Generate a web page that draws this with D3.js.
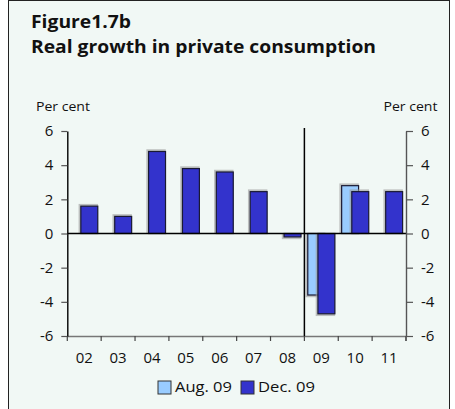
<!DOCTYPE html>
<html><head><meta charset="utf-8">
<script src="https://cdn.jsdelivr.net/npm/d3@7"></script>
<style>body{margin:0;background:#fff}svg{display:block}text{font-family:"Open Sans",sans-serif;fill:#111}</style>
</head><body><svg id="c" width="455" height="409"></svg>
<script>
const categories = ["02","03","04","05","06","07","08","09","10","11"];
const seriesNames = ["Aug. 09","Dec. 09"];
const aug09 = [null,null,null,null,null,null,null,-3.6,2.8,null];
const dec09 = [1.6,1.0,4.8,3.8,3.6,2.45,-0.2,-4.7,2.45,2.45];
const yTicks = [-6,-4,-2,0,2,4,6];
const colors = ["#99ccff","#3333cc"];

const svg = d3.select("#c");
svg.append("rect").attr("x",8.5).attr("y",0.5).attr("width",441).attr("height",420)
  .attr("fill","#f1f8f5").attr("stroke","#222").attr("stroke-width",1);

const L=67.3, R=406, T=131, B=336;
const x = d3.scaleBand().domain(categories).range([L,R]).padding(0);
const y = d3.scaleLinear().domain([-6,6]).range([B,T]);
const bw = x.bandwidth();
const barW = bw*0.5;
const xs = d3.scalePoint().domain(seriesNames).range([bw*0.1+barW/2, bw*0.9-barW/2]);

// title
svg.append("text").attr("x",31).attr("y",27.5).attr("font-weight","bold").attr("font-size",18)
  .attr("textLength",100).attr("lengthAdjust","spacingAndGlyphs").text("Figure1.7b");
svg.append("text").attr("x",31).attr("y",52.5).attr("font-weight","bold").attr("font-size",17.5)
  .attr("textLength",345).attr("lengthAdjust","spacingAndGlyphs").text("Real growth in private consumption");
svg.append("text").attr("x",36).attr("y",111).attr("font-size",13)
  .attr("textLength",54).attr("lengthAdjust","spacingAndGlyphs").text("Per cent");
svg.append("text").attr("x",383.5).attr("y",111).attr("font-size",13)
  .attr("textLength",54).attr("lengthAdjust","spacingAndGlyphs").text("Per cent");

// bars
const series = [aug09, dec09];
series.forEach((vals,si)=>{
  const g = svg.append("g");
  categories.forEach((c,i)=>{
    const v = vals[i]; if(v==null) return;
    const cx = x(c)+xs(seriesNames[si]);
    const y0 = Math.min(y(0),y(v)), h = Math.abs(y(v)-y(0));
    g.append("rect").attr("x",cx-barW/2-1).attr("y",y0+ (v<0?1:-1)).attr("width",barW).attr("height",h)
      .attr("fill","none").attr("stroke","#999").attr("stroke-width",2.5).attr("opacity",0.6);
    g.append("rect").attr("x",cx-barW/2).attr("y",y0).attr("width",barW).attr("height",h)
      .attr("fill",colors[si]).attr("stroke","#1a1a33").attr("stroke-width",1.2);
  });
});

// zero line
svg.append("line").attr("x1",L).attr("x2",R).attr("y1",y(0)).attr("y2",y(0)).attr("stroke","#000").attr("stroke-width",1.6);

// bottom axis
const xa = svg.append("g").attr("transform",`translate(0,${B})`)
  .call(d3.axisBottom(x).tickSize(0).tickPadding(16));
xa.select(".domain").attr("stroke","#777").attr("stroke-width",1.4);
xa.selectAll("text").attr("font-size",15).attr("font-family","Open Sans").attr("fill","#111");
const tickXs = categories.map(c=>x(c)).concat([R]);
svg.append("g").selectAll("line").data(tickXs).join("line")
  .attr("x1",d=>d).attr("x2",d=>d).attr("y1",B).attr("y2",B+5).attr("stroke","#444").attr("stroke-width",1.2);

// divider
svg.append("line").attr("x1",x("09")).attr("x2",x("09")).attr("y1",128).attr("y2",B).attr("stroke","#000").attr("stroke-width",1.5);

const fmt = d=>String(d);
const ya = svg.append("g").attr("transform",`translate(${L},0)`)
  .call(d3.axisLeft(y).tickValues(yTicks).tickSize(6).tickPadding(8).tickSizeOuter(0).tickFormat(fmt));
ya.select(".domain").attr("stroke","#000").attr("stroke-width",1.4);
ya.selectAll(".tick line").attr("stroke","#555").attr("stroke-width",1.2);
ya.selectAll("text").attr("font-size",15).attr("font-family","Open Sans").attr("fill","#111");

const yb = svg.append("g").attr("transform",`translate(${R},0)`)
  .call(d3.axisRight(y).tickValues(yTicks).tickSize(7).tickPadding(8).tickSizeOuter(0).tickFormat(fmt));
yb.select(".domain").attr("stroke","#555").attr("stroke-width",1.4);
yb.selectAll(".tick line").attr("stroke","#555").attr("stroke-width",1.2);
yb.selectAll("text").attr("font-size",15).attr("font-family","Open Sans").attr("fill","#111");
svg.append("line").attr("x1",R).attr("x2",R).attr("y1",B).attr("y2",B+5).attr("stroke","#555").attr("stroke-width",1.4);

// legend
const leg = svg.append("g");
const lx = [158, 241];
seriesNames.forEach((s,i)=>{
  leg.append("rect").attr("x",lx[i]).attr("y",381).attr("width",13).attr("height",13)
    .attr("fill",colors[i]).attr("stroke","#333").attr("stroke-width",1);
  leg.append("text").attr("x",lx[i]+17).attr("y",392).attr("font-size",15)
    .attr("textLength",57).attr("lengthAdjust","spacingAndGlyphs").text(s);
});
</script></body></html>
